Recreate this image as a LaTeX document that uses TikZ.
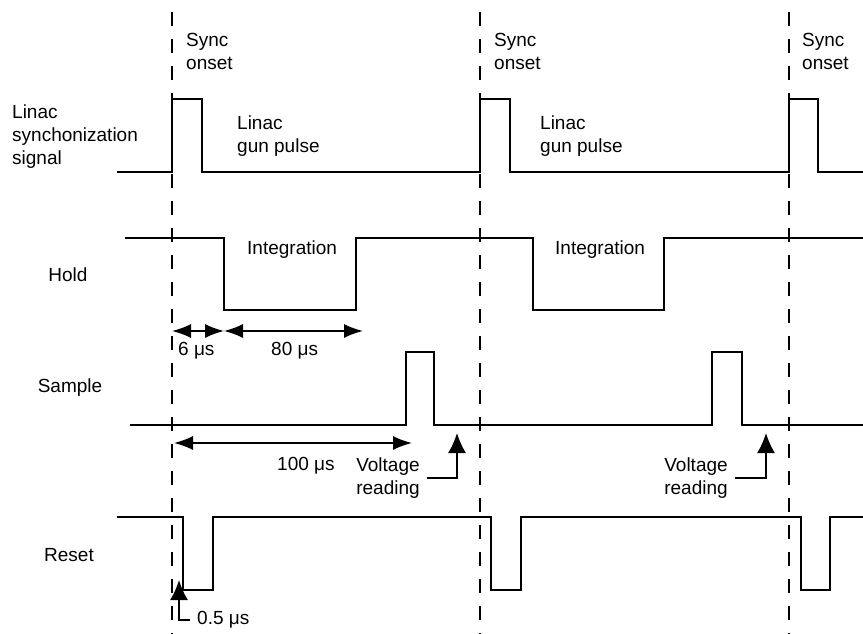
\documentclass[tikz,border=0pt]{standalone}
\usepackage{fontspec}
\setmainfont{Liberation Sans}
\usetikzlibrary{arrows.meta, positioning}

\begin{document}
\begin{tikzpicture}[
    x=1pt, y=-1pt,
    signal/.style={
        line width=1.8pt,
        line join=miter
    },
    syncline/.style={
        line width=1.7pt,
        dash pattern=on 14pt off 13pt
    },
    sigtext/.style={
        font=\fontsize{19}{23}\selectfont,
        inner sep=0pt,
        align=left
    },
    timing/.style={
        line width=1.6pt,
        {Latex[length=19pt,width=14pt]}-{Latex[length=19pt,width=14pt]}
    },
    pointer/.style={
        line width=1.6pt,
        -{Latex[length=20pt,width=18pt]}
    }
]
\useasboundingbox (0,0) rectangle (863,634);

% Sync onset markers
\draw[syncline] (172,12) -- (172,634);
\draw[syncline] (480,12) -- (480,634);
\draw[syncline] (789,12) -- (789,634);

% Signal names
\node[sigtext, anchor=west] (synclbl) at (12,137) {Linac\\synchonization\\signal};
\node[sigtext] (holdlbl) at (68,275) {Hold};
\node[sigtext] (samplelbl) at (70,388) {Sample};
\node[sigtext] (resetlbl) at (69,555) {Reset};

% Waveforms
\draw[signal] (117,172) -- (172,172) -- (172,99) -- (202,99) -- (202,172)
    -- (480,172) -- (480,99) -- (510,99) -- (510,172)
    -- (789,172) -- (789,99) -- (818,99) -- (818,172) -- (863,172);
\draw[signal] (125,238) -- (224,238) -- (224,310) -- (356,310) -- (356,238)
    -- (533,238) -- (533,310) -- (664,310) -- (664,238) -- (863,238);
\draw[signal] (130,425) -- (406,425) -- (406,352) -- (434,352) -- (434,425)
    -- (712,425) -- (712,352) -- (742,352) -- (742,425) -- (863,425);
\draw[signal] (117,517) -- (183,517) -- (183,590) -- (213,590) -- (213,517)
    -- (491,517) -- (491,590) -- (521,590) -- (521,517)
    -- (801,517) -- (801,590) -- (830,590) -- (830,517) -- (863,517);

% Annotations
\node[sigtext, anchor=west] (onset1) at (186,51) {Sync\\onset};
\node[sigtext, anchor=west] (onset2) at (494,51) {Sync\\onset};
\node[sigtext, anchor=west] (onset3) at (802,51) {Sync\\onset};
\node[sigtext, anchor=west] (gun1) at (237,136) {Linac\\gun pulse};
\node[sigtext, anchor=west] (gun2) at (540,136) {Linac\\gun pulse};
\node[sigtext, anchor=west] (integ1) at (247,250) {Integration};
\node[sigtext, anchor=west] (integ2) at (555,250) {Integration};

% Timing intervals
\coordinate (t0) at (172,331);
\coordinate (t6) at (224,331);
\coordinate (t80) at (363,331);
\draw[timing] (t0) -- (t6);
\draw[timing] (t6) -- (t80);
\node[sigtext, anchor=west] (six) at (178,351) {6 μs};
\node[sigtext, anchor=west] (eighty) at (271,351) {80 μs};

\coordinate (s0) at (174,443);
\coordinate (s100) at (412,443);
\draw[timing] (s0) -- (s100);
\node[sigtext, anchor=west] (hundred) at (277,466) {100 μs};

% Voltage reading pointers
\node[sigtext, align=center] (volt1) at (388,478) {Voltage\\reading};
\node[sigtext, align=center] (volt2) at (696,478) {Voltage\\reading};
\coordinate (vtip1) at (457,433);
\coordinate (vtip2) at (766,433);
\draw[pointer] ([xshift=7pt]volt1.east) -| (vtip1);
\draw[pointer] ([xshift=7pt]volt2.east) -| (vtip2);

% Reset width
\node[sigtext, anchor=west] (half) at (197,620) {0.5 μs};
\coordinate (htip) at (179,580);
\draw[pointer] ([xshift=-7pt]half.west) -| (htip);

\end{tikzpicture}
\end{document}
